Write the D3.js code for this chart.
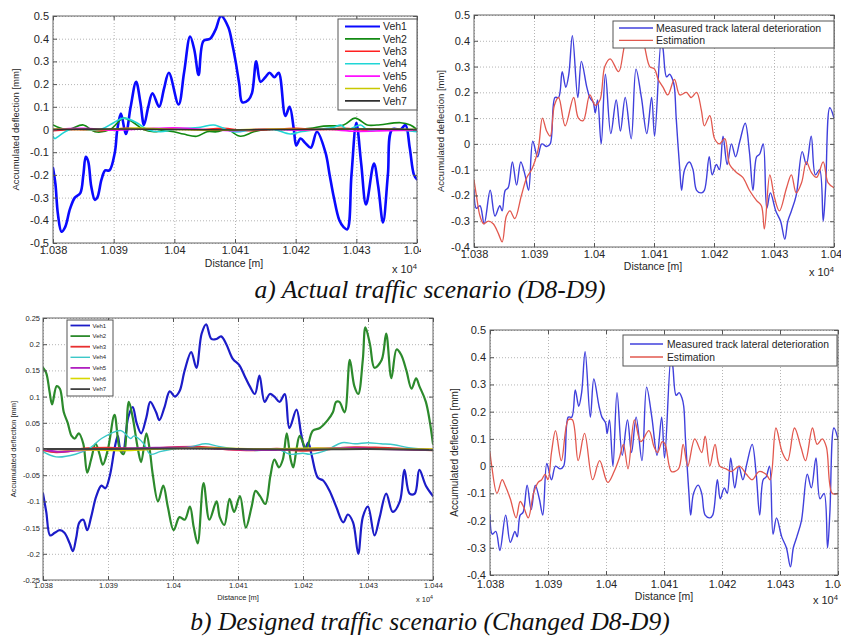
<!DOCTYPE html>
<html>
<head>
<meta charset="utf-8">
<script src="https://cdn.jsdelivr.net/npm/d3@7"></script>
<style>
  body { margin: 0; background: #fff; }
  svg { display: block; }
</style>
</head>
<body>
<script>
// ---- Data: distance in metres, accumulated deflection in mm ----
const distTicks = [10380, 10390, 10400, 10410, 10420, 10430, 10440];
const vehNames = ["Veh1", "Veh2", "Veh3", "Veh4", "Veh5", "Veh6", "Veh7"];
const vehColors = ["#0a0aff", "#138a13", "#ff2020", "#20d6d6", "#ff10ff", "#c8c800", "#303030"];
const compareNames = ["Measured track lateral deterioration", "Estimation"];
const compareColors = ["#4040dc", "#e2584e"];

// a) actual traffic scenario, per-vehicle accumulated deflection
const actualVeh1 = [[10380.0,-0.17],[10380.4,-0.24],[10380.8,-0.37],[10381.4,-0.45],[10382.0,-0.43],[10382.8,-0.35],[10383.6,-0.30],[10384.5,-0.28],[10385.0,-0.20],[10385.4,-0.12],[10385.8,-0.14],[10386.3,-0.25],[10386.9,-0.31],[10387.3,-0.30],[10388.0,-0.22],[10388.6,-0.18],[10389.3,-0.18],[10390.2,-0.10],[10390.6,0.0],[10391.2,0.07],[10392.0,-0.02],[10392.8,0.10],[10393.7,0.21],[10394.4,0.12],[10395.0,0.02],[10395.7,0.10],[10396.4,0.16],[10397.5,0.10],[10398.3,0.18],[10399.1,0.25],[10400.7,0.11],[10401.6,0.25],[10402.6,0.41],[10403.3,0.35],[10404.0,0.24],[10404.8,0.39],[10405.9,0.40],[10406.8,0.44],[10407.7,0.50],[10408.9,0.45],[10409.6,0.37],[10410.1,0.30],[10410.7,0.20],[10411.2,0.12],[10412.2,0.13],[10412.8,0.16],[10413.5,0.30],[10414.2,0.21],[10415.0,0.23],[10415.7,0.25],[10416.5,0.23],[10417.2,0.25],[10418.3,0.06],[10419.0,0.10],[10419.7,0.0],[10420.1,-0.07],[10420.8,-0.04],[10421.6,-0.06],[10422.5,-0.08],[10423.5,-0.01],[10424.9,-0.10],[10425.6,-0.20],[10426.3,-0.30],[10427.2,-0.40],[10427.9,-0.43],[10428.5,-0.44],[10429.2,-0.20],[10430.0,0.03],[10430.8,-0.15],[10431.6,-0.33],[10432.9,-0.15],[10433.6,-0.25],[10434.4,-0.41],[10435.2,-0.20],[10435.9,0.0],[10437.3,0.0],[10438.1,0.02],[10438.8,-0.08],[10439.5,-0.20],[10440.0,-0.22]];
const actualVeh2 = [[10380.0,0.02],[10382.3,0.0],[10385.0,0.02],[10386.9,-0.01],[10389.4,0.0],[10391.6,0.05],[10393.3,0.03],[10394.9,0.0],[10396.6,-0.01],[10398.2,-0.005],[10399.9,-0.01],[10401.5,-0.02],[10403.7,-0.03],[10405.4,-0.01],[10407.0,-0.01],[10408.7,0.0],[10410.9,-0.03],[10413.1,-0.01],[10415.3,0.0],[10418.0,0.0],[10419.7,0.0],[10422.4,0.005],[10424.6,0.015],[10427.9,0.02],[10429.8,0.05],[10431.8,0.02],[10433.4,0.02],[10437.3,0.03],[10438.9,0.02],[10440.0,0.0]];
const actualVeh3 = [[10380,-0.005],[10384,0.0],[10388,-0.005],[10392,0.005],[10396,0.0],[10400,0.005],[10404,0.0],[10408,0.005],[10412,-0.005],[10416,0.0],[10420,0.005],[10424,0.0],[10428,0.005],[10432,-0.005],[10436,0.0],[10440,-0.005]];
const actualVeh4 = [[10380.0,-0.03],[10380.3,-0.04],[10380.9,-0.03],[10382.8,0.0],[10387.8,0.0],[10390.0,0.03],[10391.6,0.05],[10393.8,0.03],[10395.5,0.0],[10397.7,-0.01],[10399.9,0.0],[10404.3,0.01],[10406.5,0.02],[10409.8,-0.01],[10413.1,0.0],[10416.4,0.0],[10419.1,-0.02],[10420.8,-0.01],[10423.5,0.0],[10426.3,0.01],[10427.4,0.02],[10428.5,0.0],[10430.7,0.02],[10431.8,0.0],[10436.2,0.0],[10440.0,-0.01]];
const actualVeh5 = [[10380,0.0],[10385,0.005],[10390,-0.003],[10395,0.003],[10400,0.008],[10405,0.0],[10410,-0.005],[10415,0.003],[10420,-0.003],[10425,0.0],[10430,-0.008],[10435,-0.005],[10440,-0.003]];
const actualVeh6 = [[10380,0.002],[10388,0.0],[10394,0.006],[10400,0.0],[10408,-0.003],[10416,0.002],[10424,0.0],[10432,0.003],[10440,0.0]];
const actualVeh7 = [[10380,0.0],[10390,0.002],[10400,0.0],[10410,-0.002],[10420,0.0],[10430,0.002],[10440,0.0]];

// b) designed traffic scenario, per-vehicle accumulated deflection
const designedVeh1 = [[10380.0,-0.085],[10380.5,-0.12],[10381.1,-0.165],[10381.8,-0.16],[10382.6,-0.155],[10383.3,-0.16],[10384.1,-0.18],[10384.6,-0.195],[10385.1,-0.17],[10385.6,-0.14],[10386.2,-0.135],[10386.8,-0.155],[10387.4,-0.13],[10388.2,-0.09],[10389.0,-0.07],[10389.6,-0.075],[10390.3,-0.05],[10391.0,0.0],[10391.5,0.025],[10391.9,0.0],[10392.3,-0.005],[10393.1,0.06],[10393.8,0.08],[10394.4,0.05],[10395.1,0.03],[10395.9,0.06],[10396.5,0.09],[10397.4,0.07],[10397.9,0.055],[10398.7,0.08],[10399.5,0.11],[10400.3,0.10],[10401.0,0.11],[10401.8,0.15],[10402.8,0.185],[10403.6,0.155],[10404.4,0.22],[10405.1,0.238],[10405.9,0.21],[10406.7,0.21],[10407.4,0.215],[10408.2,0.20],[10409.2,0.172],[10410.2,0.16],[10411.0,0.14],[10411.8,0.12],[10412.6,0.105],[10413.3,0.14],[10414.1,0.09],[10414.9,0.105],[10415.6,0.10],[10416.4,0.09],[10417.2,0.105],[10417.9,0.04],[10419.0,0.075],[10419.7,0.03],[10420.3,0.0],[10420.8,0.012],[10421.3,-0.01],[10422.3,-0.055],[10423.1,-0.06],[10424.1,-0.08],[10425.1,-0.11],[10426.2,-0.14],[10426.9,-0.125],[10427.7,-0.14],[10428.5,-0.20],[10429.2,-0.13],[10430.0,-0.11],[10431.0,-0.165],[10431.8,-0.13],[10432.8,-0.085],[10433.8,-0.12],[10434.9,-0.10],[10435.6,-0.04],[10436.4,-0.085],[10437.2,-0.085],[10437.9,-0.04],[10438.9,-0.07],[10440.0,-0.09]];
const designedVeh2 = [[10380.0,0.155],[10380.5,0.145],[10381.0,0.11],[10381.4,0.085],[10382.1,0.12],[10382.6,0.115],[10383.2,0.07],[10383.8,0.05],[10384.4,0.025],[10384.9,0.02],[10385.5,0.03],[10386.2,0.01],[10386.8,-0.045],[10387.4,-0.02],[10388.1,0.01],[10388.7,-0.01],[10389.2,-0.03],[10390.0,0.0],[10391.0,0.065],[10391.8,0.0],[10392.4,-0.01],[10393.2,0.09],[10393.8,0.06],[10394.6,0.0],[10395.1,-0.025],[10395.9,0.03],[10396.4,0.0],[10396.9,-0.05],[10397.7,-0.10],[10398.5,-0.07],[10399.2,-0.11],[10400.1,-0.155],[10401.0,-0.13],[10401.8,-0.135],[10402.6,-0.11],[10403.2,-0.15],[10403.8,-0.18],[10404.7,-0.065],[10405.6,-0.135],[10406.7,-0.10],[10407.2,-0.13],[10407.9,-0.145],[10408.7,-0.095],[10409.4,-0.12],[10410.3,-0.09],[10411.2,-0.15],[10412.1,-0.11],[10412.7,-0.08],[10413.4,-0.09],[10414.2,-0.105],[10415.0,-0.05],[10415.6,-0.02],[10416.3,-0.035],[10416.9,-0.02],[10417.5,0.03],[10418.1,-0.02],[10418.5,-0.035],[10419.0,0.0],[10419.5,0.025],[10420.5,0.0],[10421.5,0.035],[10422.6,0.04],[10423.8,0.055],[10424.6,0.07],[10425.1,0.09],[10425.6,0.09],[10426.4,0.07],[10427.2,0.17],[10427.9,0.12],[10428.5,0.105],[10429.2,0.17],[10429.6,0.232],[10430.3,0.20],[10431.0,0.155],[10432.1,0.17],[10432.8,0.22],[10433.6,0.135],[10434.4,0.19],[10435.1,0.18],[10435.9,0.15],[10436.7,0.115],[10437.4,0.135],[10437.9,0.12],[10438.9,0.09],[10440.0,0.01]];
const designedVeh3 = [[10380,-0.002],[10382,-0.006],[10384,-0.004],[10386,0.0],[10390,0.002],[10395,0.0],[10400,0.003],[10404,0.004],[10408,0.0],[10412,-0.002],[10416,0.0],[10420,-0.003],[10424,0.0],[10428,0.003],[10432,0.002],[10436,0.0],[10440,-0.002]];
const designedVeh4 = [[10380,-0.005],[10382,-0.015],[10385,-0.01],[10387,0.0],[10389,0.02],[10390.5,0.03],[10392,0.035],[10393.5,0.02],[10394,0.025],[10395.5,0.01],[10396.5,-0.01],[10398,-0.005],[10400,0.0],[10403,0.005],[10405,0.01],[10407,0.005],[10410,0.0],[10413,-0.003],[10416,0.0],[10418,-0.01],[10420,-0.008],[10421,-0.01],[10423,-0.005],[10424,0.0],[10426,0.012],[10428,0.01],[10430,0.012],[10432,0.01],[10434,0.008],[10436,0.003],[10438,0.0],[10440,-0.003]];
const designedVeh5 = [[10380,0.0],[10382,-0.005],[10385,-0.003],[10390,0.0],[10396,0.002],[10402,0.003],[10408,0.0],[10414,-0.002],[10420,0.0],[10426,0.002],[10432,0.0],[10440,-0.002]];
const designedVeh6 = [[10380,0.0],[10388,-0.002],[10393,-0.003],[10398,0.0],[10406,0.002],[10414,0.0],[10422,0.002],[10430,0.0],[10440,0.0]];
const designedVeh7 = [[10380,0.0],[10390,0.0],[10400,0.001],[10410,0.0],[10420,-0.001],[10430,0.0],[10440,-0.002]];

// measured track lateral deterioration (same section in both scenarios)
const measured = [[10380.0,-0.18],[10380.4,-0.25],[10381.0,-0.24],[10381.7,-0.31],[10382.7,-0.18],[10383.5,-0.28],[10384.3,-0.24],[10384.7,-0.26],[10385.2,-0.18],[10385.7,-0.17],[10386.4,-0.07],[10387.1,-0.16],[10387.8,-0.07],[10388.5,-0.12],[10389.1,-0.18],[10389.8,0.01],[10390.6,-0.05],[10391.3,0.0],[10392.1,-0.01],[10392.7,0.0],[10393.5,0.18],[10394.1,0.18],[10394.7,0.28],[10395.3,0.22],[10395.8,0.27],[10396.4,0.42],[10397.3,0.18],[10397.9,0.32],[10398.8,0.22],[10399.3,0.18],[10399.9,0.16],[10400.2,0.12],[10400.6,0.17],[10401.2,0.0],[10401.9,0.27],[10402.8,0.04],[10403.7,0.17],[10404.4,0.05],[10405.2,0.18],[10406.2,0.02],[10407.0,0.29],[10407.9,0.18],[10408.8,0.04],[10409.6,0.18],[10410.1,0.03],[10411.2,0.40],[10411.5,0.37],[10412.1,0.26],[10412.6,0.27],[10413.1,0.25],[10413.4,0.22],[10413.7,0.10],[10414.3,-0.10],[10414.6,-0.18],[10415.1,-0.10],[10415.9,-0.07],[10416.5,-0.10],[10417.1,-0.18],[10417.9,-0.19],[10418.4,-0.18],[10419.2,-0.05],[10419.7,-0.12],[10420.4,-0.08],[10420.9,-0.10],[10421.5,0.03],[10422.2,-0.08],[10422.9,0.0],[10423.6,-0.05],[10424.3,0.01],[10425.2,0.08],[10425.9,-0.03],[10426.5,-0.18],[10427.1,-0.05],[10427.6,-0.04],[10428.2,0.0],[10428.8,-0.25],[10429.4,-0.19],[10430.3,-0.26],[10431.1,-0.30],[10431.8,-0.37],[10432.3,-0.30],[10432.9,-0.26],[10433.7,-0.20],[10434.7,-0.03],[10435.4,-0.08],[10436.2,0.03],[10436.9,-0.12],[10437.6,-0.10],[10438.2,-0.30],[10438.6,-0.17],[10439.3,0.14],[10440.0,0.10]];

// estimation for the actual traffic scenario
const estimateActual = [[10380.0,-0.14],[10380.4,-0.20],[10381.0,-0.28],[10381.6,-0.31],[10382.4,-0.30],[10383.2,-0.31],[10384.1,-0.35],[10384.7,-0.38],[10385.4,-0.28],[10386.0,-0.26],[10386.8,-0.29],[10387.9,-0.20],[10388.8,-0.13],[10389.6,-0.10],[10390.7,-0.02],[10391.4,0.10],[10392.1,0.05],[10392.7,0.03],[10393.4,0.15],[10394.1,0.18],[10395.2,0.07],[10396.6,0.18],[10397.4,0.10],[10398.2,0.09],[10399.3,0.19],[10400.2,0.15],[10401.0,0.17],[10401.8,0.30],[10402.7,0.33],[10404.1,0.28],[10404.9,0.36],[10405.4,0.42],[10406.5,0.43],[10407.6,0.44],[10408.4,0.38],[10409.3,0.30],[10410.1,0.29],[10410.7,0.25],[10411.5,0.22],[10412.3,0.19],[10413.4,0.25],[10414.3,0.19],[10415.4,0.20],[10416.2,0.18],[10417.1,0.20],[10417.9,0.13],[10418.4,0.07],[10419.3,0.11],[10420.1,0.02],[10420.9,0.0],[10421.8,0.02],[10422.6,-0.08],[10423.7,-0.11],[10424.8,-0.13],[10425.9,-0.18],[10427.1,-0.22],[10427.9,-0.24],[10428.4,-0.33],[10429.3,-0.12],[10430.1,-0.21],[10430.9,-0.26],[10432.1,-0.17],[10432.9,-0.12],[10433.7,-0.19],[10434.6,-0.15],[10435.4,-0.07],[10436.2,-0.11],[10437.1,-0.13],[10438.2,-0.07],[10439.0,-0.15],[10440.0,-0.17]];

// estimation for the designed traffic scenario
const estimateDesigned = [[10380.0,0.05],[10380.3,0.0],[10381.2,-0.10],[10382.1,-0.05],[10382.6,-0.07],[10383.5,-0.12],[10384.5,-0.19],[10385.2,-0.13],[10385.8,-0.15],[10386.6,-0.19],[10387.5,-0.10],[10388.3,-0.06],[10388.9,-0.05],[10389.5,-0.03],[10390.0,-0.05],[10390.6,0.05],[10391.3,0.13],[10392.3,0.02],[10393.5,0.17],[10394.2,0.17],[10395.2,0.02],[10396.3,0.12],[10397.7,-0.05],[10398.9,0.02],[10400.3,-0.06],[10401.4,-0.02],[10402.3,0.03],[10403.0,0.08],[10403.8,-0.01],[10404.9,0.17],[10406.0,0.09],[10407.4,0.13],[10408.3,0.07],[10408.9,0.05],[10409.7,0.09],[10410.2,0.08],[10411.3,-0.02],[10412.5,-0.01],[10413.3,0.08],[10414.1,0.0],[10415.3,0.10],[10416.5,0.05],[10417.1,0.11],[10417.9,0.0],[10418.8,0.08],[10419.6,0.0],[10420.7,-0.01],[10421.6,-0.02],[10423.0,0.0],[10424.2,-0.03],[10425.2,-0.05],[10426.4,-0.02],[10427.6,-0.03],[10428.3,-0.05],[10429.3,0.14],[10430.4,0.05],[10431.3,0.02],[10432.5,0.14],[10433.6,0.07],[10434.4,0.02],[10435.6,0.14],[10436.4,0.08],[10437.3,0.10],[10438.0,0.07],[10439.0,-0.10],[10440.0,-0.10]];

const yTicksWide = [-0.5,-0.4,-0.3,-0.2,-0.1,0,0.1,0.2,0.3,0.4,0.5];
const yTicksCompare = [-0.4,-0.3,-0.2,-0.1,0,0.1,0.2,0.3,0.4,0.5];
const yTicksNarrow = [-0.25,-0.2,-0.15,-0.1,-0.05,0,0.05,0.1,0.15,0.2,0.25];

const captions = ["a) Actual traffic scenario (D8-D9)", "b) Designed traffic scenario (Changed D8-D9)"];

// ---- Drawing ----
const W = 841, H = 636;
const svg = d3.select("body").append("svg").attr("width", W).attr("height", H);
const defs = svg.append("defs");
const FONT = "'Liberation Sans', Arial, sans-serif";
let clipId = 0;

const fmtDist = d => String(+(d / 1e4).toFixed(3));
const fmtVal = v => String(+v.toFixed(2));

function drawPanel(cfg) {
  const root = svg.append("g");
  if (cfg.clipRight) {
    const id = "pc" + (clipId++);
    defs.append("clipPath").attr("id", id).append("rect")
      .attr("x", 0).attr("y", 0).attr("width", cfg.clipRight).attr("height", H);
    root.attr("clip-path", `url(#${id})`);
  }
  const x = d3.scaleLinear().domain([10380, 10440]).range([cfg.left, cfg.right]);
  const y = d3.scaleLinear().domain(cfg.yDomain).range([cfg.bottom, cfg.top]);
  const w = cfg.right - cfg.left, h = cfg.bottom - cfg.top;

  // dotted grid
  root.append("g").attr("transform", `translate(0,${cfg.bottom})`)
    .call(d3.axisBottom(x).tickValues(distTicks).tickSize(-h).tickFormat(""))
    .call(s => { s.select(".domain").remove();
      s.selectAll("line").attr("stroke", "#b4b4b4").attr("stroke-dasharray", "1,2"); });
  root.append("g").attr("transform", `translate(${cfg.left},0)`)
    .call(d3.axisLeft(y).tickValues(cfg.yTicks).tickSize(-w).tickFormat(""))
    .call(s => { s.select(".domain").remove();
      s.selectAll("line").attr("stroke", "#b4b4b4").attr("stroke-dasharray", "1,2"); });

  // data lines, clipped to the plotting area
  const pid = "pa" + (clipId++);
  defs.append("clipPath").attr("id", pid).append("rect")
    .attr("x", cfg.left).attr("y", cfg.top).attr("width", w).attr("height", h);
  const line = d3.line().x(d => x(d[0])).y(d => y(d[1])).curve(d3.curveCatmullRom.alpha(0.5));
  const plot = root.append("g").attr("clip-path", `url(#${pid})`);
  cfg.series.forEach((s, i) => {
    plot.append("path").datum(s).attr("d", line).attr("fill", "none")
      .attr("stroke", cfg.colors[i]).attr("stroke-width", cfg.widths[i])
      .attr("stroke-linejoin", "round").attr("stroke-linecap", "round");
  });

  // frame
  root.append("rect").attr("x", cfg.left).attr("y", cfg.top).attr("width", w).attr("height", h)
    .attr("fill", "none").attr("stroke", "#666").attr("stroke-width", 1);

  // axes with inward ticks
  const styleAxis = s => { s.select(".domain").remove();
    s.selectAll("line").attr("stroke", "#555");
    s.selectAll("text").attr("fill", "#262626").attr("font-family", FONT).attr("font-size", cfg.tickFont); };
  root.append("g").attr("transform", `translate(0,${cfg.bottom})`)
    .call(d3.axisBottom(x).tickValues(distTicks).tickFormat(fmtDist).tickSize(-4).tickPadding(cfg.xPad))
    .call(styleAxis);
  root.append("g").attr("transform", `translate(0,${cfg.top})`)
    .call(d3.axisTop(x).tickValues(distTicks).tickFormat("").tickSize(-4)).call(styleAxis);
  root.append("g").attr("transform", `translate(${cfg.left},0)`)
    .call(d3.axisLeft(y).tickValues(cfg.yTicks).tickFormat(fmtVal).tickSize(-4).tickPadding(cfg.yPad))
    .call(styleAxis);
  root.append("g").attr("transform", `translate(${cfg.right},0)`)
    .call(d3.axisRight(y).tickValues(cfg.yTicks).tickFormat("").tickSize(-4)).call(styleAxis);

  // axis titles
  root.append("text").attr("x", (cfg.left + cfg.right) / 2 + cfg.xTitleDx).attr("y", cfg.xTitleY)
    .attr("text-anchor", "middle").attr("font-family", FONT).attr("font-size", cfg.titleFont)
    .attr("fill", "#262626").text("Distance [m]");
  root.append("text")
    .attr("transform", `translate(${cfg.yTitleX},${(cfg.top + cfg.bottom) / 2}) rotate(-90)`)
    .attr("text-anchor", "middle").attr("font-family", FONT).attr("font-size", cfg.yTitleFont)
    .attr("fill", "#262626").text("Accumulated deflection [mm]");
  const ex = root.append("text").attr("x", cfg.right).attr("y", cfg.expY).attr("text-anchor", "end")
    .attr("font-family", FONT).attr("font-size", cfg.tickFont).attr("fill", "#262626");
  ex.append("tspan").text("x 10");
  ex.append("tspan").attr("dy", -cfg.tickFont * 0.4).attr("font-size", cfg.tickFont * 0.7).text("4");

  // legend
  const L = cfg.legend;
  const lg = root.append("g");
  lg.append("rect").attr("x", L.x).attr("y", L.y).attr("width", L.w).attr("height", L.h)
    .attr("fill", "#fff").attr("stroke", "#555").attr("stroke-width", 1);
  L.names.forEach((n, i) => {
    const yy = L.y + L.first + i * L.step;
    lg.append("line").attr("x1", L.x + L.l1).attr("x2", L.x + L.l2).attr("y1", yy).attr("y2", yy)
      .attr("stroke", cfg.colors[i]).attr("stroke-width", Math.min(cfg.widths[i], L.lw));
    lg.append("text").attr("x", L.x + L.tx).attr("y", yy).attr("dy", "0.35em")
      .attr("font-family", FONT).attr("font-size", L.font).attr("fill", "#262626").text(n);
  });
}

// a) left: per-vehicle deflection
drawPanel({
  left: 53, right: 417, top: 16, bottom: 243, yDomain: [-0.5, 0.5], yTicks: yTicksWide,
  series: [actualVeh1, actualVeh2, actualVeh3, actualVeh4, actualVeh5, actualVeh6, actualVeh7],
  colors: vehColors, widths: [2.6, 1.6, 1.6, 1.6, 1.6, 1.6, 1.6],
  tickFont: 11, xPad: 3, yPad: 4, titleFont: 10.5, xTitleDx: -1, xTitleY: 267,
  yTitleX: 19, yTitleFont: 9.5, expY: 273, clipRight: 421,
  legend: { x: 338, y: 19, w: 79, h: 91, first: 7.5, step: 12.4, l1: 7, l2: 42, tx: 45, font: 10.5, lw: 2.2, names: vehNames }
});

// a) right: measured vs estimation
drawPanel({
  left: 474, right: 834, top: 15, bottom: 247, yDomain: [-0.4, 0.5], yTicks: yTicksCompare,
  series: [measured, estimateActual],
  colors: compareColors, widths: [1.4, 1.3],
  tickFont: 11, xPad: 3, yPad: 4, titleFont: 10.5, xTitleDx: -1, xTitleY: 270,
  yTitleX: 444, yTitleFont: 9.5, expY: 276,
  legend: { x: 613, y: 21, w: 221, h: 27, first: 7, step: 12.4, l1: 6, l2: 40, tx: 43, font: 10.5, lw: 1.4, names: compareNames }
});

// b) left: per-vehicle deflection
drawPanel({
  left: 43, right: 433, top: 318, bottom: 580, yDomain: [-0.25, 0.25], yTicks: yTicksNarrow,
  series: [designedVeh1, designedVeh2, designedVeh3, designedVeh4, designedVeh5, designedVeh6, designedVeh7],
  colors: ["#1c1cc8", "#2c8a2c", "#e83030", "#3cc8c8", "#b020c0", "#d8d800", "#404040"],
  widths: [2.2, 2.2, 2.4, 1.4, 2.0, 1.6, 2.0],
  tickFont: 7.5, xPad: 3, yPad: 3, titleFont: 7.5, xTitleDx: 0, xTitleY: 600,
  yTitleX: 16, yTitleFont: 7.5, expY: 602,
  legend: { x: 67, y: 320, w: 46, h: 76, first: 5.5, step: 10.6, l1: 3.5, l2: 23, tx: 25.5, font: 6, lw: 1.8, names: vehNames }
});

// b) right: measured vs estimation
drawPanel({
  left: 490, right: 838, top: 330, bottom: 575, yDomain: [-0.4, 0.5], yTicks: yTicksCompare,
  series: [measured, estimateDesigned],
  colors: compareColors, widths: [1.4, 1.3],
  tickFont: 11, xPad: 5, yPad: 4, titleFont: 10.5, xTitleDx: 0, xTitleY: 600,
  yTitleX: 458, yTitleFont: 10, expY: 604,
  legend: { x: 623, y: 335, w: 214, h: 31, first: 9, step: 13, l1: 7, l2: 40, tx: 44, font: 10.3, lw: 1.4, names: compareNames }
});

// captions
svg.selectAll("text.caption").data(captions).join("text").attr("class", "caption")
  .attr("x", 430).attr("y", (d, i) => i === 0 ? 298 : 630)
  .attr("text-anchor", "middle").attr("font-family", "'Liberation Serif', 'Times New Roman', serif")
  .attr("font-style", "italic").attr("font-size", 25.5).attr("fill", "#111").text(d => d);
</script>
</body>
</html>
